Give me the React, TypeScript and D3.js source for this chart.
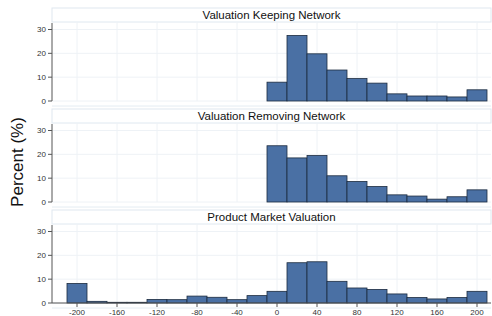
import React from "react";
import * as d3 from "d3";

const titles = ["Valuation Keeping Network", "Valuation Removing Network", "Product Market Valuation"];
const binCenters = [-200, -180, -160, -140, -120, -100, -80, -60, -40, -20, 0, 20, 40, 60, 80, 100, 120, 140, 160, 180, 200];
const keeping = [null, null, null, null, null, null, null, null, null, null, 7.9, 27.5, 19.8, 13.0, 9.4, 7.5, 3.0, 2.1, 2.1, 1.7, 4.7];
const removing = [null, null, null, null, null, null, null, null, null, null, 23.6, 18.5, 19.5, 11.0, 8.6, 6.5, 3.0, 2.5, 1.2, 2.2, 5.1];
const product = [8.2, 0.7, 0.3, 0.3, 1.5, 1.4, 2.9, 2.4, 1.4, 3.1, 4.9, 16.9, 17.3, 9.1, 6.3, 5.7, 3.8, 2.3, 1.7, 2.3, 4.9];
const yTicks = [0, 10, 20, 30];
const xTicks = [-200, -160, -120, -80, -40, 0, 40, 80, 120, 160, 200];
const binWidth = 20;

const W = 492, H = 316;
const left = 52, right = 491;
const panelTop0 = 8, panelPitch = 101, headerH = 14, plotH = 93;

export default function App() {
  const series = [keeping, removing, product];
  const x = d3.scaleLinear().domain([-225, 214]).range([left, right]);
  const font = "'Liberation Sans', Arial, Helvetica, sans-serif";
  return (
    <svg width={W} height={H} style={{ position: "absolute", left: 0, top: 0, background: "#fff" }} fontFamily={font}>
      <rect width={W} height={H} fill="#fff" />
      {series.map((vals, i) => {
        const top = panelTop0 + i * panelPitch;
        const y = d3.scaleLinear().domain([0, 33.15]).range([top + plotH, top + headerH]);
        const plotBottom = top + plotH + 5;
        return (
          <g key={i}>
            {/* header */}
            <rect x={left} y={top} width={right - left} height={headerH} fill="#fff" stroke="#dfe8f0" strokeWidth={1} />
            <text x={(left + right) / 2} y={top + headerH - 3} textAnchor="middle" fontSize={11.5} fill="#111">{titles[i]}</text>
            {/* grid */}
            {yTicks.map(t => (
              <line key={"gy" + t} x1={left} x2={right} y1={y(t)} y2={y(t)} stroke="#eef2f6" strokeWidth={1} />
            ))}
            {xTicks.map(t => (
              <line key={"gx" + t} x1={x(t)} x2={x(t)} y1={top + headerH} y2={y(0)} stroke="#eef2f6" strokeWidth={1} />
            ))}
            <line x1={left} x2={right} y1={plotBottom} y2={plotBottom} stroke="#e4ecf2" strokeWidth={1} />
            {/* bars */}
            {vals.map((v, j) => v == null ? null : (
              <rect key={j}
                x={x(binCenters[j] - binWidth / 2)}
                y={y(v)}
                width={x(binCenters[j] + binWidth / 2) - x(binCenters[j] - binWidth / 2)}
                height={y(0) - y(v)}
                fill="#4a70a4" stroke="#1c2b3f" strokeWidth={0.8} />
            ))}
            {/* y axis */}
            <line x1={left} x2={left} y1={top + headerH + 1} y2={y(0)} stroke="#555" strokeWidth={1} />
            {yTicks.map(t => (
              <g key={"yt" + t}>
                <line x1={left - 4} x2={left} y1={y(t)} y2={y(t)} stroke="#555" strokeWidth={1} />
                <text x={left - 6} y={y(t)} dy="0.33em" textAnchor="end" fontSize={8} fill="#333">{t}</text>
              </g>
            ))}
            {i === 2 && (
              <g>
                <line x1={left} x2={right} y1={y(0)} y2={y(0)} stroke="#555" strokeWidth={1} />
                {xTicks.map(t => (
                  <g key={"xt" + t}>
                    <line x1={x(t)} x2={x(t)} y1={y(0)} y2={y(0) + 4} stroke="#555" strokeWidth={1} />
                    <text x={x(t)} y={y(0) + 12} textAnchor="middle" fontSize={8} fill="#333">{t}</text>
                  </g>
                ))}
              </g>
            )}
          </g>
        );
      })}
      <text transform={`translate(23,162) rotate(-90)`} textAnchor="middle" fontSize={17} fill="#111">Percent (%)</text>
    </svg>
  );
}
